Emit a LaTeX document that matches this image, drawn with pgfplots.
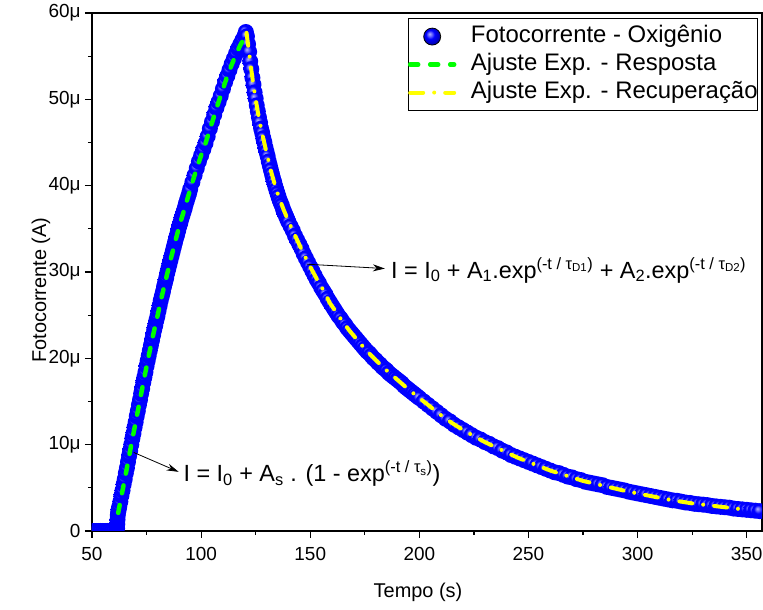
\documentclass[border=0pt]{standalone}
\usepackage{fontspec}
\setmainfont{Liberation Sans}
\usepackage{pgfplots}
\pgfplotsset{compat=1.18}
\usepackage{pgfplotstable}
\usetikzlibrary{arrows.meta}
\definecolor{dblue}{RGB}{0,0,255}
\definecolor{fgreen}{RGB}{0,255,0}
\definecolor{fyellow}{RGB}{255,255,0}
\newcommand{\fsann}{\fontsize{23.5}{28}\selectfont}
\newcommand{\fsleg}{\fontsize{24}{28}\selectfont}
\pgfdeclareradialshading{blueball}{\pgfqpoint{-8bp}{8bp}}{color(0bp)=(dblue!30!white); color(6bp)=(dblue!60!white); color(13bp)=(dblue); color(25bp)=(dblue); color(50bp)=(dblue)}
\pgfdeclareradialshading{legball}{\pgfqpoint{-8bp}{8bp}}{color(0bp)=(dblue!30!white); color(6bp)=(dblue!60!white); color(13bp)=(dblue); color(22bp)=(dblue!80!black); color(25bp)=(dblue!70!black); color(50bp)=(dblue!70!black)}
\pgfdeclareplotmark{bball}{%
  \pgfpathcircle{\pgfpointorigin}{\pgfplotmarksize}%
  \pgfshadepath{blueball}{0}%
  \pgfusepath{discard}}
\pgfplotsset{
  lineleg/.style={legend image code/.code={\draw[##1] (2bp,0bp) -- (46bp,0bp);}},
  ballleg/.style={legend image code/.code={\path[draw=none,fill=none] (0bp,0bp) -- (48bp,0bp); \shade[shading=legball] (24bp,0bp) circle (8.5bp);}},
}
\begin{document}
\pgfplotstableread{
x y
50 0.0
51 0.0
52 0.0
53 0.0
54 0.0
55 0.0
56 0.0
57 0.0
58 0.0
59 0.0
60 0.0
61 0.0
61.5 0.3
61.6 0.8
61.7 1.3
61.8 1.8
62.0 2.2
62.2 2.5
62.5 2.8
63.0 3.4
63.5 4.1
64.0 4.7
64.5 5.4
65.0 6.0
65.5 6.7
66.0 7.3
66.5 8.0
67.0 8.7
67.5 9.3
68.0 10.0
68.5 10.7
69.0 11.3
69.5 12.0
70.0 12.6
70.5 13.3
71.0 13.9
71.5 14.6
72.0 15.2
72.5 15.9
73.0 16.5
73.5 17.2
74.0 17.8
74.5 18.4
75.0 19.1
75.5 19.7
76.0 20.3
76.5 20.9
77.0 21.5
77.5 22.1
78.0 22.7
78.5 23.3
79.0 23.8
79.5 24.4
80.0 24.9
80.5 25.5
81.0 26.1
81.5 26.7
82.0 27.2
82.5 27.7
83.0 28.3
83.5 28.8
84.0 29.3
84.5 29.9
85.0 30.4
85.5 30.9
86.0 31.4
86.5 31.9
87.0 32.4
87.5 32.9
88.0 33.4
88.5 33.9
89.0 34.3
89.5 34.8
90.0 35.3
90.5 35.7
91.0 36.2
91.5 36.6
92.0 37.0
92.5 37.4
93.0 37.9
93.5 38.3
94.0 38.7
94.5 39.1
95.0 39.6
96 40.4
97 41.2
98 42.0
99 42.8
100 43.5
101 44.2
102 44.9
103 45.7
104 46.6
105 47.4
106 48.2
107 49.0
108 49.7
109 50.4
110 51.2
111 52.0
112 52.7
113 53.4
114 54.1
115 54.7
116 55.3
117 55.9
118 56.4
119 56.9
120 57.4
120.5 57.8
121.0 57.3
121.5 56.4
122.0 55.5
122.5 54.4
123.0 53.5
123.5 52.5
124.0 51.7
124.5 50.8
125.0 50.1
125.5 49.3
126.0 48.6
126.5 47.9
127.0 47.3
127.5 46.6
128.0 46.1
128.5 45.5
129.0 45.0
129.5 44.4
130.0 43.9
130.5 43.4
131.0 42.8
131.5 42.3
132.0 41.8
132.5 41.3
133.0 40.8
133.5 40.4
134.0 39.9
134.5 39.5
135.0 39.1
135.5 38.7
136.0 38.3
136.5 38.0
137.0 37.7
137.5 37.3
138.0 37.0
138.5 36.7
139.0 36.4
139.5 36.1
140.0 35.8
141 35.3
142 34.8
143 34.2
144 33.7
145 33.2
146 32.7
147 32.1
148 31.6
149 31.1
150 30.6
151 30.1
152 29.6
153 29.1
154 28.7
155 28.2
156 27.8
157 27.4
158 26.9
159 26.5
160 26.1
161 25.7
162 25.3
163 24.9
164 24.6
165 24.2
166 23.9
167 23.5
168 23.2
169 22.9
170 22.6
171 22.3
172 22.0
173 21.7
174 21.4
175 21.1
176 20.8
177 20.6
178 20.3
179 20.0
180 19.8
181 19.5
182 19.3
183 19.0
184 18.8
185 18.6
186 18.3
187 18.1
188 17.9
189 17.7
190 17.5
191 17.3
192 17.1
193 16.8
194 16.6
195 16.4
196 16.2
197 16.0
198 15.8
199 15.6
200 15.4
202 15.0
204 14.6
206 14.2
208 13.8
210 13.4
212 13.0
214 12.7
216 12.3
218 12.0
220 11.7
222 11.4
224 11.1
226 10.8
228 10.6
230 10.3
232 10.1
234 9.8
236 9.6
238 9.3
240 9.1
242 8.8
244 8.6
246 8.4
248 8.2
250 8.0
252 7.8
254 7.6
256 7.4
258 7.2
260 7.0
262 6.8
264 6.7
266 6.5
268 6.3
270 6.2
272 6.0
274 5.9
276 5.7
278 5.6
280 5.5
282 5.4
284 5.3
286 5.1
288 5.0
290 4.9
292 4.8
294 4.7
296 4.55
298 4.45
300 4.35
302 4.25
304 4.15
306 4.05
308 3.95
310 3.85
312 3.75
314 3.65
316 3.55
318 3.5
320 3.4
322 3.3
324 3.25
326 3.15
328 3.1
330 3.05
332 3.0
334 2.9
336 2.85
338 2.8
340 2.75
342 2.7
344 2.6
346 2.55
348 2.5
350 2.45
352 2.4
354 2.35
356 2.3
358 2.25
}\datatab
\pgfplotstableread{
x y
62 2.1
64 4.7
66 7.3
68 10.0
70 12.6
72 15.2
74 17.8
76 20.3
78 22.7
80 24.9
82 27.2
84 29.3
86 31.4
88 33.4
90 35.3
92 37.0
94 38.7
96 40.4
98 42.0
100 43.5
102 44.9
104 46.5
106 48.1
108 49.7
110 51.2
112 52.7
114 54.0
116 55.2
118 56.3
120 57.2
121 57.6
}\risetab
\pgfplotstableread{
x y
120.8 57.7
122 55.4
123 53.4
124 51.6
125 50.0
126 48.5
127 47.2
128 46.0
130 43.8
132 41.7
134 39.9
136 38.4
138 37.1
140 35.9
142 34.8
144 33.7
147 32.1
150 30.6
153 29.2
156 27.9
159 26.4
162 25.3
165 24.2
168 23.2
171 22.3
175 21.1
180 19.8
185 18.6
190 17.5
195 16.4
200 15.4
205 14.4
210 13.4
215 12.5
220 11.7
225 11.0
230 10.3
235 9.7
240 9.1
245 8.5
250 8.0
255 7.5
260 7.0
265 6.6
270 6.2
275 5.8
280 5.5
285 5.2
290 4.9
295 4.6
300 4.35
305 4.1
310 3.85
315 3.6
320 3.4
325 3.2
330 3.05
335 2.9
340 2.75
345 2.6
350 2.45
}\decaytab
\begin{tikzpicture}
\begin{axis}[
  scale only axis,
  width=670bp, height=518bp,
  xmin=50, xmax=357, ymin=0, ymax=60,
  xtick={50,100,...,350},
  minor xtick={75,125,...,325},
  ytick={0,10,...,60},
  yticklabels={0,10μ,20μ,30μ,40μ,50μ,60μ},
  minor ytick={5,15,...,55},
  tick pos=left,
  tick align=outside,
  major tick length=7bp,
  minor tick length=4bp,
  every tick/.style={black, line width=1.2bp},
  axis line style={line width=1.2bp},
  /pgf/number format/assume math mode=true,
  ticklabel style={font=\fontsize{19}{22}\selectfont},
  xticklabel style={yshift=-6bp},
  yticklabel style={xshift=-1bp},
  label style={font=\fontsize{20}{24}\selectfont},
  xlabel={Tempo (s)},
  ylabel={Fotocorrente (A)},
  xlabel style={at={(axis description cs:0.4866,-0.1178)}, anchor=center},
  ylabel style={at={(axis description cs:-0.0761,0.465)}, anchor=center},
  clip marker paths=true,
  legend cell align=left,
  legend style={at={(rel axis cs:0.994,0.99)}, anchor=north east,
    draw=black, line width=0.8bp, inner xsep=0pt, inner ysep=5bp,
    font=\fsleg, row sep=2bp,
    nodes={inner sep=0pt, text height=19bp, text depth=7bp},
    /tikz/every odd column/.append style={column sep=14.5bp}},
]
\addplot[only marks, mark=bball, mark size=8bp, ballleg]
  table[x=x,y=y] {\datatab};
\addlegendentry{Fotocorrente - Oxigênio}
\addplot[no marks, color=fgreen, line width=4.5bp, line cap=round, dash pattern=on 8bp off 12bp, lineleg]
  table[x=x,y=y] {\risetab};
\addlegendentry{Ajuste Exp. - Resposta}
\addplot[no marks, color=fyellow, line width=4bp, line cap=round, dash pattern=on 13bp off 11bp on 0bp off 11bp, lineleg]
  table[x=x,y=y] {\decaytab};
\addlegendentry{Ajuste Exp. - Recuperação}
\draw[line width=0.8bp, -{Stealth[length=12bp,width=7bp]}] (axis cs:69.1,9.1) -- (axis cs:89.7,6.85);
\draw[line width=0.8bp, -{Stealth[length=12bp,width=7bp]}] (axis cs:148.5,30.9) -- (axis cs:184.2,30.4);
\node[anchor=base west, inner sep=0pt, font=\fsann] at (axis cs:91.85,5.69)
  {I = I\textsubscript{0} + A\textsubscript{s} . (1 - exp\textsuperscript{(-t / τ\textsubscript{s})})};
\node[anchor=base west, inner sep=0pt, font=\fsann] at (axis cs:186.95,29.28)
  {I = I\textsubscript{0} + A\textsubscript{1}.exp\textsuperscript{(-t / τ\textsubscript{D1})} + A\textsubscript{2}.exp\textsuperscript{(-t / τ\textsubscript{D2})}};
\end{axis}
\pgfresetboundingbox
\path ([xshift=-92bp,yshift=-79bp]current axis.south west) rectangle ([xshift=1bp,yshift=13bp]current axis.north east);
\end{tikzpicture}
\end{document}
